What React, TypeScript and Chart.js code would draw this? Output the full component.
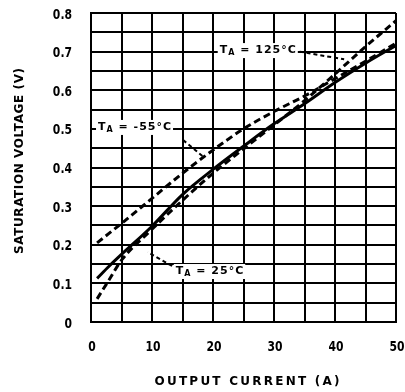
import React, { useEffect, useRef } from "react";
import { Chart, registerables } from "chart.js";

Chart.register(...registerables);

// Output current (A)
const currents = [1, 3, 5, 10, 15, 20, 25, 30, 35, 40, 45, 50];
// Saturation voltage (V) per ambient temperature
const vsatMinus55 = [0.205, 0.23, 0.255, 0.32, 0.385, 0.445, 0.5, 0.545, 0.585, 0.63, 0.675, 0.722];
const vsat25 = [0.113, 0.145, 0.175, 0.248, 0.33, 0.395, 0.455, 0.513, 0.565, 0.62, 0.67, 0.716];
const vsat125 = [0.06, 0.11, 0.16, 0.24, 0.315, 0.385, 0.448, 0.51, 0.573, 0.642, 0.713, 0.78];

const xTickLabels = ["0", "10", "20", "30", "40", "50"];
const yTickLabels = ["0", "0.1", "0.2", "0.3", "0.4", "0.5", "0.6", "0.7", "0.8"];

const xTitle = "OUTPUT CURRENT (A)";
const yTitle = "SATURATION VOLTAGE (V)";

const FONT = "'DejaVu Sans', sans-serif";

function toPoints(values: number[]) {
  return currents.map((c, i) => ({ x: c, y: values[i] }));
}

function drawTempLabel(ctx: CanvasRenderingContext2D, px: number, py: number, temp: string) {
  ctx.save();
  (ctx as any).letterSpacing = "1px";
  ctx.font = `bold 11px ${FONT}`;
  const wT = ctx.measureText("T").width;
  ctx.font = `bold 8px ${FONT}`;
  const wA = ctx.measureText("A").width;
  ctx.font = `bold 11px ${FONT}`;
  const rest = " = " + temp;
  const wR = ctx.measureText(rest).width;
  const total = wT + wA + wR;
  ctx.fillStyle = "#fff";
  ctx.fillRect(px - 2, py - 7, total + 3, 15);
  ctx.fillStyle = "#000";
  ctx.textBaseline = "middle";
  ctx.textAlign = "left";
  ctx.fillText("T", px, py);
  ctx.font = `bold 8px ${FONT}`;
  ctx.fillText("A", px + wT, py + 3);
  ctx.font = `bold 11px ${FONT}`;
  ctx.fillText(rest, px + wT + wA, py);
  ctx.restore();
  return total;
}

function leader(ctx: CanvasRenderingContext2D, x1: number, y1: number, x2: number, y2: number) {
  ctx.save();
  ctx.strokeStyle = "#000";
  ctx.lineWidth = 2;
  ctx.setLineDash([4, 3]);
  ctx.beginPath();
  ctx.moveTo(x1, y1);
  ctx.lineTo(x2, y2);
  ctx.stroke();
  ctx.restore();
}

function spacedText(
  ctx: CanvasRenderingContext2D,
  text: string,
  cx: number,
  cy: number,
  targetWidth: number,
  rotate: boolean
) {
  ctx.save();
  ctx.font = `bold 12px ${FONT}`;
  (ctx as any).letterSpacing = "0px";
  const w0 = ctx.measureText(text).width;
  const sp = Math.max(0, (targetWidth - w0) / (text.length - 1));
  (ctx as any).letterSpacing = `${sp}px`;
  ctx.fillStyle = "#000";
  ctx.textBaseline = "middle";
  ctx.textAlign = "left";
  ctx.translate(cx, cy);
  if (rotate) ctx.rotate(-Math.PI / 2);
  ctx.fillText(text, -targetWidth / 2, 0);
  ctx.restore();
}

function condensedText(
  ctx: CanvasRenderingContext2D,
  text: string,
  x: number,
  y: number,
  align: "right" | "center"
) {
  ctx.save();
  ctx.font = `bold 12px ${FONT}`;
  ctx.fillStyle = "#000";
  ctx.textBaseline = "middle";
  ctx.textAlign = align;
  ctx.translate(x, y);
  ctx.scale(0.9, 1.15);
  ctx.fillText(text, 0, 0);
  ctx.restore();
}

const axisTextPlugin = {
  id: "axisText",
  afterDraw(chart: any) {
    const { ctx } = chart;
    const xs = chart.scales.x;
    const ys = chart.scales.y;
    // y tick labels
    yTickLabels.forEach((lab, i) => {
      condensedText(ctx, lab, 72, ys.getPixelForValue(i / 10) + 2, "right");
    });
    // x tick labels
    xTickLabels.forEach((lab, i) => {
      condensedText(ctx, lab, xs.getPixelForValue(i * 10) + 1, 347, "center");
    });
    // axis titles
    spacedText(ctx, xTitle, 247, 382, 185, false);
    spacedText(ctx, yTitle, 20, 161, 186, true);
  },
};

const annotationPlugin = {
  id: "tempLabels",
  afterDatasetsDraw(chart: any) {
    const { ctx } = chart;
    const xs = chart.scales.x;
    const ys = chart.scales.y;
    const X = (v: number) => xs.getPixelForValue(v);
    const Y = (v: number) => ys.getPixelForValue(v);
    // -55 C
    drawTempLabel(ctx, X(1.15), Y(0.505), "-55°C");
    leader(ctx, X(15.1), Y(0.471), X(18.4), Y(0.428));
    // 125 C
    drawTempLabel(ctx, X(21.1), Y(0.704), "125°C");
    leader(ctx, X(34.2), Y(0.7), X(41.5), Y(0.68));
    // 25 C
    drawTempLabel(ctx, X(13.9), Y(0.132), "25°C");
    leader(ctx, X(13.3), Y(0.145), X(9.3), Y(0.181));
  },
};

export default function App() {
  const canvasRef = useRef<HTMLCanvasElement | null>(null);

  useEffect(() => {
    const canvas = canvasRef.current;
    if (!canvas) return;
    const lineCommon = {
      borderColor: "#000",
      backgroundColor: "#000",
      borderWidth: 3,
      pointRadius: 0,
      fill: false,
      cubicInterpolationMode: "monotone" as const,
    };
    const chart = new Chart(canvas, {
      type: "line",
      data: {
        datasets: [
          { ...lineCommon, label: "TA = -55°C", data: toPoints(vsatMinus55), borderDash: [7, 4] },
          { ...lineCommon, label: "TA = 25°C", data: toPoints(vsat25) },
          { ...lineCommon, label: "TA = 125°C", data: toPoints(vsat125), borderDash: [7, 4] },
        ],
      },
      options: {
        responsive: false,
        animation: false,
        layout: { padding: { top: 13, right: 9, left: 0, bottom: 0 } },
        plugins: {
          legend: { display: false },
          tooltip: { enabled: false },
        },
        scales: {
          x: {
            type: "linear",
            min: 0,
            max: 50,
            ticks: { stepSize: 5, display: false, autoSkip: false },
            grid: { color: "#000", lineWidth: 2, drawTicks: false },
            border: { display: true, color: "#000", width: 2 },
            title: { display: false, text: xTitle },
            afterFit: (scale: any) => {
              scale.height = 70;
            },
          },
          y: {
            type: "linear",
            min: 0,
            max: 0.8,
            ticks: { stepSize: 0.05, display: false, autoSkip: false },
            grid: { color: "#000", lineWidth: 2, drawTicks: false },
            border: { display: true, color: "#000", width: 2 },
            title: { display: false, text: yTitle },
            afterFit: (scale: any) => {
              scale.width = 91;
            },
          },
        },
      },
      plugins: [annotationPlugin, axisTextPlugin],
    });
    return () => chart.destroy();
  }, []);

  return (
    <div style={{ position: "absolute", left: 0, top: 0, width: 405, height: 392, background: "#fff" }}>
      <canvas ref={canvasRef} width={405} height={392} />
    </div>
  );
}
